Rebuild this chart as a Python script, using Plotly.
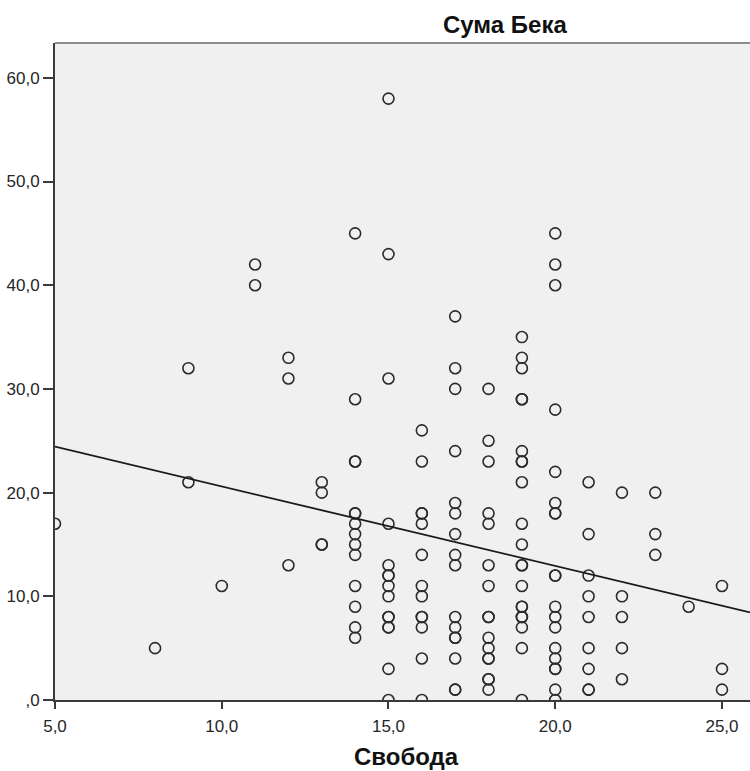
import plotly.graph_objects as go

# ---- data ----
svoboda = (
    [5] + [8] + [9] * 2 + [10] + [11] * 2 + [12] * 3 + [13] * 4 + [14] * 14 + [15] * 15
    + [16] * 13 + [17] * 16 + [18] * 16 + [19] * 21 + [20] * 19 + [21] * 9 + [22] * 5
    + [23] * 3 + [24] + [25] * 3
)
suma_beka = (
    [17]
    + [5]
    + [32, 21]
    + [11]
    + [42, 40]
    + [33, 31, 13]
    + [21, 20, 15, 15]
    + [45, 29, 23, 23, 18, 18, 17, 16, 15, 14, 11, 9, 7, 6]
    + [58, 43, 31, 17, 13, 12, 12, 11, 10, 8, 8, 7, 7, 3, 0]
    + [26, 23, 18, 18, 17, 14, 11, 10, 8, 8, 7, 4, 0]
    + [37, 32, 30, 24, 19, 18, 16, 14, 13, 8, 7, 6, 6, 4, 1, 1]
    + [30, 25, 23, 18, 17, 13, 11, 8, 8, 6, 5, 4, 4, 2, 2, 1]
    + [35, 33, 32, 29, 29, 24, 23, 23, 21, 17, 15, 13, 13, 11, 9, 9, 8, 8, 7, 5, 0]
    + [45, 42, 40, 28, 22, 19, 18, 18, 12, 12, 9, 8, 7, 5, 4, 3, 3, 1, 0]
    + [21, 16, 12, 10, 8, 5, 3, 1, 1]
    + [20, 10, 8, 5, 2]
    + [20, 16, 14]
    + [9]
    + [11, 3, 1]
)

fit_intercept = 28.27
fit_slope = -0.767

x_tick_vals = [5, 10, 15, 20, 25]
x_tick_text = ["5,0", "10,0", "15,0", "20,0", "25,0"]
y_tick_vals = [0, 10, 20, 30, 40, 50, 60]
y_tick_text = [",0", "10,0", "20,0", "30,0", "40,0", "50,0", "60,0"]

x_range = [5, 25.84]
y_range = [0, 63.36]

fit_x = list(x_range)
fit_y = [fit_intercept + fit_slope * v for v in fit_x]

W, H = 750, 771
L, T, B = 55, 43, 71
PW, PH = W - L, H - T - B

fig = go.Figure()
fig.add_trace(go.Scatter(
    x=svoboda, y=suma_beka, mode="markers",
    marker=dict(symbol="circle-open", size=11, color="#2b2b2b", line=dict(width=1.6, color="#2b2b2b")),
    cliponaxis=True, showlegend=False, hoverinfo="skip",
))
fig.add_trace(go.Scatter(
    x=fit_x, y=fit_y, mode="lines",
    line=dict(color="#1a1a1a", width=1.8), showlegend=False, hoverinfo="skip",
))

axis_font = dict(family="Liberation Sans, Arial", size=17, color="#262626")
fig.update_layout(
    width=W, height=H,
    margin=dict(l=L, r=0, t=T, b=B, pad=0),
    paper_bgcolor="white", plot_bgcolor="#f0f0f0",
    xaxis=dict(range=x_range, tickvals=x_tick_vals, ticktext=x_tick_text,
               showgrid=False, zeroline=False, showline=True, linecolor="#3a3a3a", linewidth=2,
               ticks="outside", ticklen=7, tickwidth=2, tickcolor="#3a3a3a", tickfont=axis_font,
               ticklabelstandoff=3),
    yaxis=dict(range=y_range, tickvals=y_tick_vals, ticktext=y_tick_text,
               showgrid=False, zeroline=False, showline=True, linecolor="#3a3a3a", linewidth=2,
               ticks="outside", ticklen=10, tickwidth=2, tickcolor="#3a3a3a", tickfont=axis_font,
               ticklabelstandoff=0),
    shapes=[dict(type="line", xref="paper", yref="paper", x0=0, x1=1, y0=1, y1=1,
                 line=dict(color="#8c8c8c", width=2))],
    annotations=[
        dict(text="<b>Сума Бека</b>", xref="paper", yref="paper",
             x=(505 - L) / PW, y=1 + (T - 24) / PH, xanchor="center", yanchor="middle",
             showarrow=False, font=dict(family="Liberation Sans, Arial", size=24, color="#111")),
        dict(text="<b>Свобода</b>", xref="paper", yref="paper",
             x=(406 - L) / PW, y=-(756 - (H - B)) / PH, xanchor="center", yanchor="middle",
             showarrow=False, font=dict(family="Liberation Sans, Arial", size=24, color="#111")),
    ],
)

fig.write_html(
    "out.html",
    config={"displayModeBar": False},
    post_script="document.body.style.margin='0';document.body.style.overflow='hidden';",
)
